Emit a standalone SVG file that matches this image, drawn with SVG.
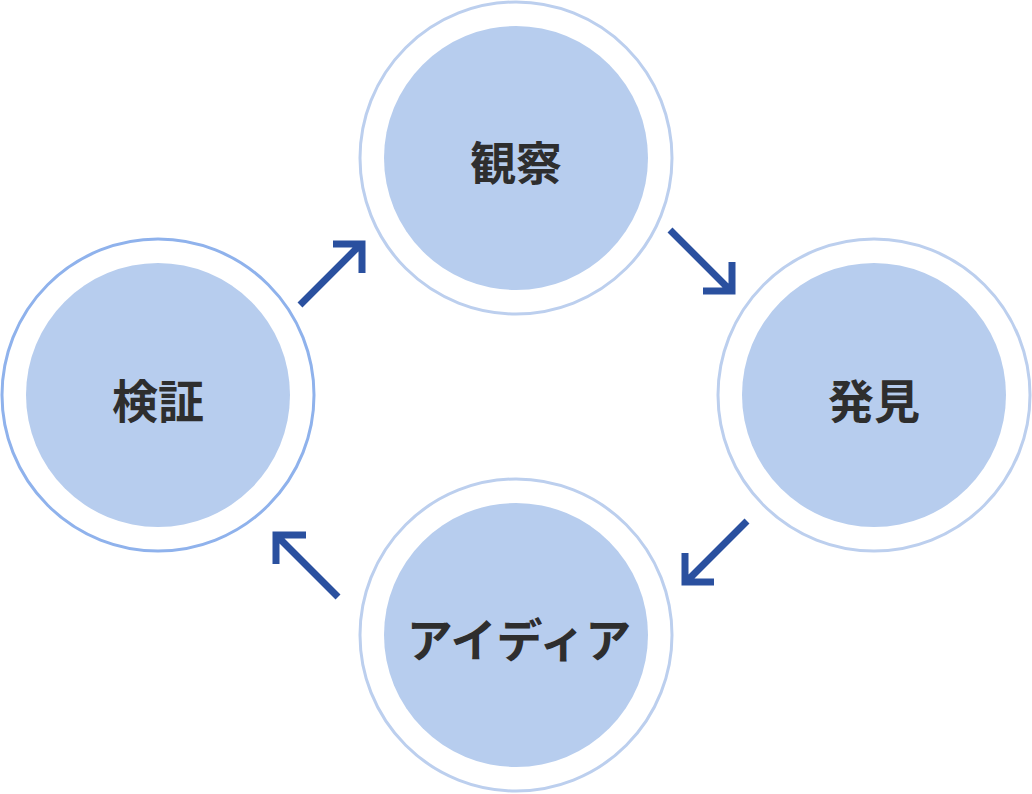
<svg xmlns="http://www.w3.org/2000/svg" width="1032" height="794" viewBox="0 0 1032 794">
<style>
.ring{fill:#ffffff;stroke:#bccfee;stroke-width:3}
.ring2{fill:#ffffff;stroke:#8fb2ec;stroke-width:3}
.core{fill:#b7cdee}
.lbl{font-family:"Noto Sans CJK JP","Noto Sans",sans-serif;font-weight:700;font-size:46px;fill:#2e2e2e;text-anchor:middle;dominant-baseline:central}
.arr{fill:none;stroke:#2a509f;stroke-width:7;stroke-linecap:butt;stroke-linejoin:miter}
</style>
<rect width="1032" height="794" fill="#ffffff"/>
<g id="node-kansatsu">
<circle class="ring" cx="516" cy="158" r="156"/>
<circle class="core" cx="516" cy="158" r="132"/>
<text class="lbl" x="516" y="160">観察</text>
</g>
<g id="node-hakken">
<circle class="ring" cx="874" cy="395" r="156"/>
<circle class="core" cx="874" cy="395" r="132"/>
<text class="lbl" x="874" y="398">発見</text>
</g>
<g id="node-idea">
<circle class="ring" cx="516" cy="635" r="156"/>
<circle class="core" cx="516" cy="635" r="132"/>
<text class="lbl" x="519" y="637">アイディア</text>
</g>
<g id="node-kensho">
<circle class="ring2" cx="158" cy="395" r="156"/>
<circle class="core" cx="158" cy="395" r="132"/>
<text class="lbl" x="158" y="398">検証</text>
</g>
<g id="connectors">
<path class="arr" d="M300 305 L361 244 M333 244 L362 244 L362 273"/>
<path class="arr" d="M670 230 L731 291 M732 262 L732 291 L703 291"/>
<path class="arr" d="M747 521 L686 582 M685 553 L685 582 L714 582"/>
<path class="arr" d="M338 597 L277 536 M306 535 L276 535 L276 564"/>
</g>
</svg>
